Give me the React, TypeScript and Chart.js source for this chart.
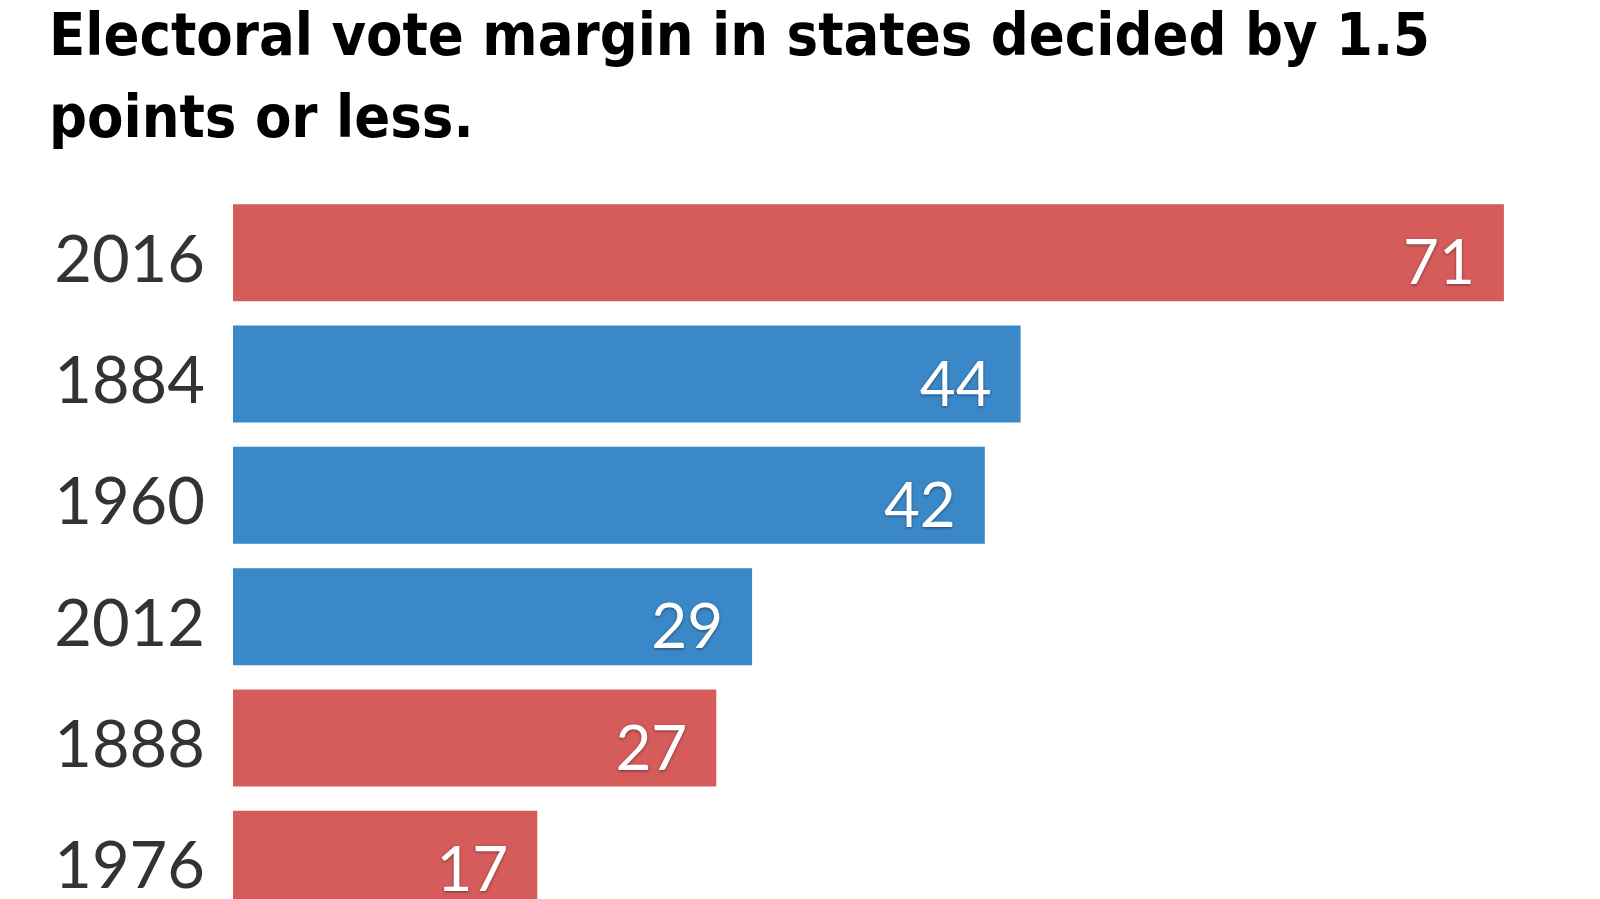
import React, { useEffect, useRef } from "react";
import { Chart, registerables } from "chart.js";

Chart.register(...registerables);

const titleLines = ["Electoral vote margin in states decided by 1.5", "points or less."];
const years = ["2016", "1884", "1960", "2012", "1888", "1976"];
const margins = [71, 44, 42, 29, 27, 17];
const winnerParty = ["R", "D", "D", "D", "R", "R"];

const RED = "#d65b5b";
const BLUE = "#3a88c8";

const valueLabelPlugin = {
  id: "valueLabels",
  afterDatasetsDraw(chart: any) {
    const ctx = chart.ctx;
    const meta = chart.getDatasetMeta(0);
    ctx.save();
    ctx.font = "400 62px Lato";
    ctx.fillStyle = "#ffffff";
    ctx.textAlign = "right";
    ctx.textBaseline = "alphabetic";
    ctx.shadowColor = "rgba(0,0,0,0.45)";
    ctx.shadowBlur = 3;
    ctx.shadowOffsetX = 0;
    ctx.shadowOffsetY = 1;
    meta.data.forEach((bar: any, i: number) => {
      ctx.fillText(String(margins[i]), bar.x - 29, bar.y + 31.5);
    });
    ctx.restore();
  },
};

export default function App() {
  const ref = useRef<HTMLCanvasElement | null>(null);
  useEffect(() => {
    if (!ref.current) return;
    const chart = new Chart(ref.current, {
      type: "bar",
      data: {
        labels: years,
        datasets: [
          {
            data: margins,
            backgroundColor: winnerParty.map((p) => (p === "R" ? RED : BLUE)),
            borderWidth: 0,
            categoryPercentage: 1,
            barPercentage: 0.8,
          },
        ],
      },
      options: {
        indexAxis: "y",
        animation: false,
        responsive: false,
        maintainAspectRatio: false,
        layout: { padding: { top: 192, bottom: 2, left: 0, right: 24.5 } },
        plugins: {
          legend: { display: false },
          tooltip: { enabled: false },
          title: { display: false },
        },
        scales: {
          x: {
            display: false,
            min: 0,
            max: 75,
          },
          y: {
            border: { display: false },
            grid: { display: false, drawTicks: false },
            ticks: {
              color: "#333333",
              font: { family: "Lato", size: 65, weight: "400" },
              padding: 28,
              labelOffset: 8,
            },
            afterFit(scale: any) {
              scale.width = 233;
              scale.paddingTop = 0;
              scale.paddingBottom = 0;
            },
          },
        },
      },
      plugins: [valueLabelPlugin],
    });
    return () => chart.destroy();
  }, []);

  return (
    <div
      style={{
        position: "fixed",
        top: 0,
        left: 0,
        width: 1600,
        height: 899,
        overflow: "hidden",
        background: "#ffffff",
      }}
    >
      <canvas
        ref={ref}
        width={1600}
        height={922}
        style={{ position: "absolute", top: 0, left: 0, width: 1600, height: 922 }}
      />
      <div
        style={{
          position: "absolute",
          left: 49,
          top: -6,
          fontFamily: "'DejaVu Sans Condensed', sans-serif",
          fontWeight: 700,
          fontSize: 59,
          lineHeight: "82px",
          color: "#000000",
          whiteSpace: "nowrap",
        }}
      >
        {titleLines.map((l, i) => (
          <div key={i}>{l}</div>
        ))}
      </div>
    </div>
  );
}
